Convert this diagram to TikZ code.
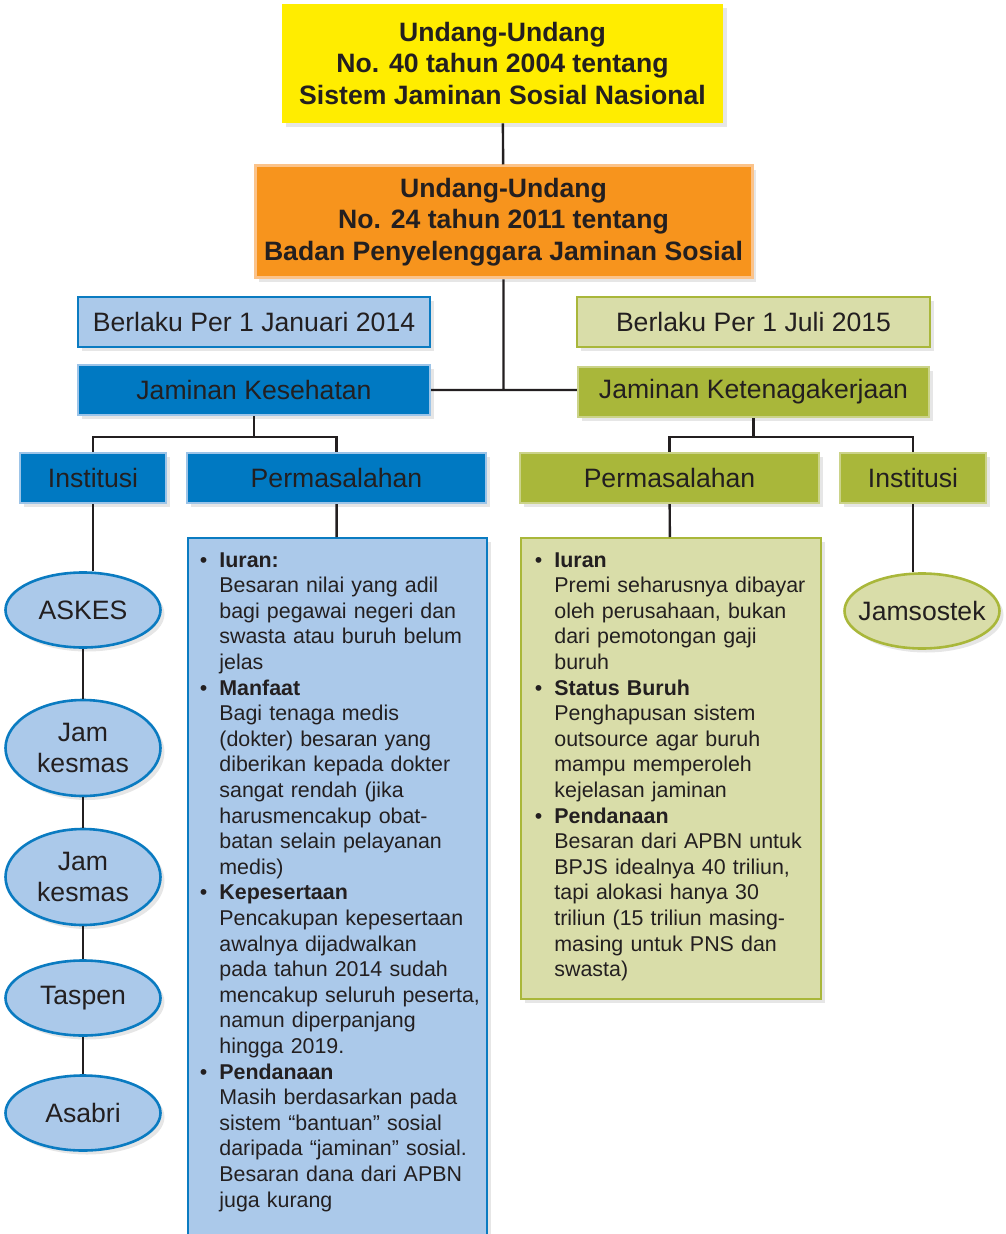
\documentclass[tikz,border=0pt]{standalone}
\usepackage{fontspec}
\setmainfont{Liberation Sans}
\usetikzlibrary{shapes,positioning,shadows}

\definecolor{lawyellow}{HTML}{FFED00}
\definecolor{laworange}{HTML}{F7941D}
\definecolor{laworangeline}{HTML}{FBC38A}
\definecolor{kesblue}{HTML}{0079C2}
\definecolor{kesbluepale}{HTML}{9CC4E8}
\definecolor{kesbluelight}{HTML}{ABC9EA}
\definecolor{kesline}{HTML}{0A7BC1}
\definecolor{tkgreen}{HTML}{A9B73A}
\definecolor{tkgreenpale}{HTML}{CBD389}
\definecolor{tkgreenlight}{HTML}{D9DDA9}
\definecolor{inkdark}{HTML}{231F20}

\newenvironment{pointlist}{\begin{list}{\textbullet}{%
  \setlength{\leftmargin}{9pt}\setlength{\labelwidth}{5pt}%
  \setlength{\labelsep}{6pt}\setlength{\itemsep}{0pt}%
  \setlength{\parsep}{0pt}\setlength{\topsep}{0pt}%
  \setlength{\partopsep}{0pt}}}{\end{list}}

\tikzset{law node/.style={rectangle,align=center,text=inkdark,inner sep=0pt,
            font=\fontsize{13.3}{15.75}\selectfont\bfseries,
            drop shadow={shadow xshift=2pt,shadow yshift=-2pt,opacity=.2}},
         head node/.style={rectangle,inner sep=0pt,text=inkdark,line width=1.2pt,
            font=\fontsize{13.3}{16}\selectfont,minimum height=25pt,
            drop shadow={shadow xshift=2pt,shadow yshift=-2pt,opacity=.2}},
         kes head/.style={head node,fill=kesblue,draw=kesbluepale},
         kes date/.style={head node,fill=kesbluelight,draw=kesline},
         tk head/.style={head node,fill=tkgreen,draw=tkgreenpale},
         tk date/.style={head node,fill=tkgreenlight,draw=tkgreen},
         inst node/.style={ellipse,inner sep=0pt,text=inkdark,line width=1.3pt,
            align=center,minimum width=77.5pt,minimum height=37.5pt,
            font=\fontsize{13.3}{15.5}\selectfont,
            drop shadow={shadow xshift=2pt,shadow yshift=-2pt,opacity=.2}},
         prob box/.style={rectangle,line width=1.2pt,anchor=north west,
            drop shadow={shadow xshift=2pt,shadow yshift=-2pt,opacity=.2}},
         prob text/.style={anchor=north west,inner sep=0pt,text=inkdark,
            text width=140pt,font=\fontsize{10.7}{12.8}\selectfont},
         conn/.style={draw=inkdark,line width=1.2pt}
            }

\begin{document}
\begin{tikzpicture}[x=0.5pt,y=-0.5pt]

    \useasboundingbox (0,0) rectangle (1005,1234);

    % undang-undang
    \node[law node,fill=lawyellow,minimum width=220.5pt,minimum height=59.5pt] (uu40) at (502.5,63.5)
        {Undang-Undang\\No. 40 tahun 2004 tentang\\Sistem Jaminan Sosial Nasional};
    \node[law node,fill=laworange,draw=laworangeline,line width=1.5pt,minimum width=248.5pt,minimum height=56pt] (uu24) at (503.5,222)
        {Undang-Undang\\No. 24 tahun 2011 tentang\\Badan Penyelenggara Jaminan Sosial};

    % jaminan kesehatan
    \node[kes date,minimum width=176pt] (kesdate) at (254,322) {Berlaku Per 1 Januari 2014};
    \node[kes head,minimum width=176pt] (kesmain) at (254,390) {Jaminan Kesehatan};
    \node[kes head,minimum width=73pt] (kesinst) at (93,478) {Institusi};
    \node[kes head,minimum width=149.5pt] (kesprob) at (336.5,478) {Permasalahan};

    % jaminan ketenagakerjaan
    \node[tk date,minimum width=176.5pt] (tkdate) at (753.5,322) {Berlaku Per 1 Juli 2015};
    \node[tk head,minimum width=175.5pt] (tkmain) at (753.5,392) {Jaminan Ketenagakerjaan};
    \node[tk head,minimum width=149.5pt] (tkprob) at (669.5,478) {Permasalahan};
    \node[tk head,minimum width=73pt] (tkinst) at (913,478) {Institusi};

    % institusi
    \node[inst node,fill=kesbluelight,draw=kesline] (askes) at (83,610) {ASKES};
    \node[inst node,fill=kesbluelight,draw=kesline,minimum height=48pt] (jamkes1) at (83,748) {Jam\\kesmas};
    \node[inst node,fill=kesbluelight,draw=kesline,minimum height=48pt] (jamkes2) at (83,877) {Jam\\kesmas};
    \node[inst node,fill=kesbluelight,draw=kesline] (taspen) at (83,998) {Taspen};
    \node[inst node,fill=kesbluelight,draw=kesline] (asabri) at (83,1113) {Asabri};
    \node[inst node,fill=tkgreenlight,draw=tkgreen,inner xsep=-4.5pt] (jamsostek) at (922,611) {Jamsostek};

    % permasalahan
    \node[prob box,fill=kesbluelight,draw=kesline,minimum width=149.5pt,minimum height=360pt] (kesbox) at (187,537) {};
    \node[prob text,xshift=7pt,yshift=-2pt] (kestext) at (kesbox.north west) {\raggedright
    \begin{pointlist}
    \item \textbf{Iuran:}\\Besaran nilai yang adil\\bagi pegawai negeri dan\\swasta atau buruh belum\\jelas
    \item \textbf{Manfaat}\\Bagi tenaga medis\\(dokter) besaran yang\\diberikan kepada dokter\\sangat rendah (jika\\harusmencakup obat-\\batan selain pelayanan\\medis)
    \item \textbf{Kepesertaan}\\Pencakupan kepesertaan\\awalnya dijadwalkan\\pada tahun 2014 sudah\\mencakup seluruh peserta,\\namun diperpanjang\\hingga 2019.
    \item \textbf{Pendanaan}\\Masih berdasarkan pada\\sistem “bantuan” sosial\\daripada “jaminan” sosial.\\Besaran dana dari APBN\\juga kurang
    \end{pointlist}};

    \node[prob box,fill=tkgreenlight,draw=tkgreen,minimum width=150pt,minimum height=230.5pt] (tkbox) at (520,537) {};
    \node[prob text,xshift=8pt,yshift=-2pt] (tktext) at (tkbox.north west) {\raggedright
    \begin{pointlist}
    \item \textbf{Iuran}\\Premi seharusnya dibayar\\oleh perusahaan, bukan\\dari pemotongan gaji\\buruh
    \item \textbf{Status Buruh}\\Penghapusan sistem\\outsource agar buruh\\mampu memperoleh\\kejelasan jaminan
    \item \textbf{Pendanaan}\\Besaran dari APBN untuk\\BPJS idealnya 40 triliun,\\tapi alokasi hanya 30\\triliun (15 triliun masing-\\masing untuk PNS dan\\swasta)
    \end{pointlist}};

    % garis
    \path[conn]
    (uu40) -- (uu24)
    (uu24.south) -- (uu24.south |- kesmain.east)
    (kesmain.east) -- (kesmain.east -| tkmain.west);

    \draw[conn] (kesmain.south) -- ++(0,21) coordinate (kesfork);
    \draw[conn] (kesinst.north) |- (kesfork) -| (kesprob.north);
    \draw[conn] (tkmain.south) -- ++(0,19) coordinate (tkfork);
    \draw[conn] (tkprob.north) |- (tkfork) -| (tkinst.north);

    \draw[conn] (kesprob) -- (kesbox);
    \draw[conn] (tkprob) -- (tkbox);
    \draw[conn] (kesinst.south) -- (kesinst.south |- askes.north);
    \path[conn] (askes) -- (jamkes1) -- (jamkes2) -- (taspen) -- (asabri);
    \draw[conn] (tkinst.south) -- (tkinst.south |- jamsostek.north);

\end{tikzpicture}
\end{document}
